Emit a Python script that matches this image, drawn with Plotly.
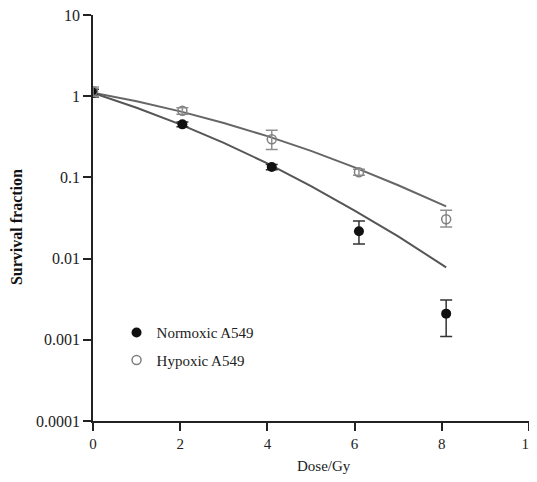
import plotly.graph_objects as go

# Measured data (dose in Gy, survival fraction)
doses = [0.0, 2.05, 4.1, 6.1, 8.1]
normoxic_sf = [1.1, 0.45, 0.134, 0.0217, 0.0021]
normoxic_err_plus = [0.12, 0.03, 0.01, 0.0073, 0.001]
normoxic_err_minus = [0.12, 0.03, 0.01, 0.0066, 0.001]
hypoxic_sf = [1.15, 0.66, 0.295, 0.116, 0.0305]
hypoxic_err_plus = [0.15, 0.06, 0.085, 0.01, 0.009]
hypoxic_err_minus = [0.15, 0.06, 0.075, 0.01, 0.006]

# Fitted curves
fit_doses = [0.0, 1.0, 2.0, 3.0, 4.0, 5.0, 6.0, 7.0, 8.1]
normoxic_fit = [1.1, 0.72, 0.45, 0.266, 0.149, 0.078, 0.039, 0.0188, 0.0078]
hypoxic_fit = [1.1, 0.865, 0.65, 0.467, 0.322, 0.212, 0.133, 0.08, 0.044]

x_ticks = [0, 2, 4, 6, 8, 10]
y_ticks = [10, 1, 0.1, 0.01, 0.001, 0.0001]
y_tick_labels = ["10", "1", "0.1", "0.01", "0.001", "0.0001"]

names = ["Normoxic A549", "Hypoxic A549"]

FONT = "Liberation Serif"

fig = go.Figure()

fig.add_trace(go.Scatter(x=fit_doses, y=hypoxic_fit, mode="lines",
                         line=dict(color="#666666", width=2), showlegend=False,
                         hoverinfo="skip"))
fig.add_trace(go.Scatter(x=fit_doses, y=normoxic_fit, mode="lines",
                         line=dict(color="#555555", width=2), showlegend=False,
                         hoverinfo="skip"))

fig.add_trace(go.Scatter(
    x=doses, y=normoxic_sf, mode="markers", name=names[0], legendgroup="n",
    marker=dict(symbol="circle", size=10, color="#111111"),
    error_y=dict(type="data", symmetric=False, array=normoxic_err_plus,
                 arrayminus=normoxic_err_minus, color="#333333", thickness=1.5, width=6),
))
fig.add_trace(go.Scatter(
    x=doses, y=hypoxic_sf, mode="markers", name=names[1], legendgroup="h",
    marker=dict(symbol="circle-open", size=9, color="#808080", line=dict(width=1.5)),
    error_y=dict(type="data", symmetric=False, array=hypoxic_err_plus,
                 arrayminus=hypoxic_err_minus, color="#909090", thickness=1.5, width=6),
))

fig.update_layout(
    width=529, height=466,
    margin=dict(l=85, r=8, t=7, b=53),
    paper_bgcolor="white", plot_bgcolor="white",
    font=dict(family=FONT, size=16, color="#222222"),
    legend=dict(x=0.054, y=0.258, xanchor="left", yanchor="top",
                bgcolor="rgba(0,0,0,0)", font=dict(family=FONT, size=15),
                tracegroupgap=5),
    xaxis=dict(range=[0, 10], tickvals=x_ticks, ticks="outside", ticklen=8,
               tickwidth=1.5, tickcolor="#222", showline=True, linecolor="#222",
               linewidth=1.5, showgrid=False, zeroline=False, automargin=False,
               ticklabeloverflow="allow",
               tickfont=dict(family=FONT, size=15)),
    yaxis=dict(type="log", range=[-4, 1], tickvals=y_ticks, ticktext=y_tick_labels,
               ticks="outside", ticklen=8, tickwidth=2, tickcolor="#222",
               showline=True, linecolor="#222", linewidth=1.5, showgrid=False,
               zeroline=False, automargin=False, ticklabeloverflow="allow",
               tickfont=dict(family=FONT, size=16)),
    annotations=[
        dict(text="<b>Survival fraction</b>", textangle=-90, xref="paper", yref="paper",
             x=-0.174, y=0.478, xanchor="center", yanchor="middle", showarrow=False,
             font=dict(family=FONT, size=16, color="#111")),
        dict(text="Dose/Gy", xref="paper", yref="paper", x=0.53, y=-0.111,
             xanchor="center", yanchor="middle",
             showarrow=False, font=dict(family=FONT, size=15, color="#222")),
    ],
)

fig.write_html("out.html")
